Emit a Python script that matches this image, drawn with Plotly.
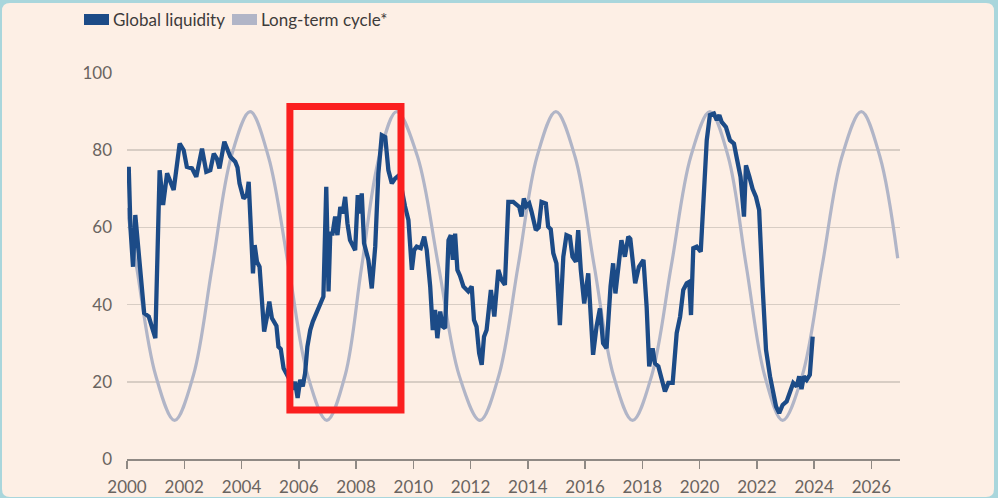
import plotly.graph_objects as go

# ---- data ----
liq_years = [2000.06, 2000.12, 2000.21, 2000.29, 2000.41, 2000.52, 2000.60, 2000.76, 2000.87, 2000.99,
             2001.14, 2001.26, 2001.40, 2001.51, 2001.63, 2001.84, 2001.98, 2002.09, 2002.27, 2002.42,
             2002.62, 2002.77, 2002.91, 2003.03, 2003.14, 2003.23, 2003.40, 2003.61, 2003.78, 2003.86,
             2003.93, 2004.07, 2004.19, 2004.25, 2004.30, 2004.40, 2004.46, 2004.54, 2004.63, 2004.71,
             2004.79, 2004.89, 2004.97, 2005.06, 2005.14, 2005.22, 2005.29, 2005.37, 2005.47, 2005.65,
             2005.80, 2005.87, 2005.96, 2006.05, 2006.14, 2006.22, 2006.30, 2006.40, 2006.49, 2006.61,
             2006.75, 2006.86, 2006.96, 2007.04, 2007.10, 2007.18, 2007.27, 2007.35, 2007.45, 2007.53,
             2007.62, 2007.70, 2007.79, 2007.97, 2008.06, 2008.12, 2008.20, 2008.28, 2008.43, 2008.55,
             2008.67, 2008.78, 2008.90, 2009.02, 2009.13, 2009.25, 2009.37, 2009.50, 2009.71, 2009.83,
             2009.95, 2010.03, 2010.12, 2010.26, 2010.38, 2010.47, 2010.59, 2010.68, 2010.76, 2010.84,
             2010.94, 2011.03, 2011.11, 2011.23, 2011.31, 2011.38, 2011.46, 2011.54, 2011.63, 2011.75,
             2011.92, 2012.04, 2012.12, 2012.21, 2012.30, 2012.39, 2012.47, 2012.56, 2012.71, 2012.83,
             2012.97, 2013.08, 2013.20, 2013.32, 2013.49, 2013.70, 2013.78, 2013.86, 2013.95, 2014.05,
             2014.13, 2014.28, 2014.38, 2014.48, 2014.63, 2014.71, 2014.80, 2014.89, 2015.00, 2015.12,
             2015.24, 2015.35, 2015.47, 2015.56, 2015.68, 2015.76, 2015.85, 2015.97, 2016.11, 2016.23,
             2016.28, 2016.40, 2016.52, 2016.63, 2016.75, 2016.89, 2016.98, 2017.06, 2017.16, 2017.27,
             2017.39, 2017.51, 2017.58, 2017.66, 2017.75, 2017.88, 2018.04, 2018.15, 2018.24, 2018.36,
             2018.44, 2018.56, 2018.68, 2018.79, 2018.91, 2019.06, 2019.20, 2019.32, 2019.43, 2019.55,
             2019.64, 2019.70, 2019.78, 2019.90, 2020.04, 2020.13, 2020.25, 2020.36, 2020.50, 2020.60,
             2020.69, 2020.77, 2020.92, 2021.06, 2021.20, 2021.29, 2021.43, 2021.55, 2021.62, 2021.74,
             2021.85, 2021.97, 2022.08, 2022.20, 2022.32, 2022.46, 2022.57, 2022.67, 2022.78, 2022.90,
             2023.04, 2023.15, 2023.27, 2023.39, 2023.48, 2023.56, 2023.64, 2023.74, 2023.85, 2023.95]
liq_values = [75.7, 60.0, 49.8, 63.2, 53.3, 42.9, 37.8, 36.9, 34.3, 31.3,
              74.8, 65.8, 74.0, 72.2, 69.7, 81.7, 80.0, 75.7, 75.3, 73.1,
              80.4, 74.4, 74.8, 79.1, 77.8, 75.3, 82.2, 78.3, 77.0, 75.5,
              71.4, 67.5, 68.4, 71.8, 65.3, 48.1, 55.4, 51.1, 49.8, 39.5,
              33.0, 36.9, 40.8, 36.5, 35.2, 34.5, 29.1, 28.5, 23.5, 21.0,
              18.0, 20.0, 15.8, 20.5, 18.8, 22.2, 29.1, 33.4, 35.6, 37.8,
              40.8, 42.1, 70.5, 43.4, 58.4, 58.4, 62.8, 58.0, 65.3, 63.6,
              67.9, 61.0, 56.7, 54.1, 68.4, 63.6, 68.8, 55.9, 51.6, 44.2,
              55.0, 74.0, 83.9, 83.4, 74.8, 71.4, 72.7, 73.5, 65.5, 61.9,
              49.0, 54.1, 55.0, 54.6, 57.6, 54.1, 44.7, 33.4, 38.6, 31.3,
              38.2, 34.3, 33.9, 56.7, 58.0, 51.6, 58.4, 49.0, 47.5, 44.7,
              43.4, 44.7, 36.0, 34.3, 27.4, 24.4, 31.7, 33.4, 43.8, 36.9,
              49.0, 46.4, 45.1, 66.6, 66.6, 65.3, 62.8, 67.5, 65.5, 66.2,
              64.1, 59.3, 60.0, 66.6, 66.2, 60.2, 59.5, 53.3, 50.7, 34.7,
              52.4, 58.0, 57.6, 52.4, 51.1, 59.3, 49.0, 40.3, 48.1, 34.3,
              27.0, 34.3, 39.0, 30.0, 28.7, 44.7, 50.7, 42.9, 49.8, 56.7,
              52.4, 57.6, 57.0, 52.4, 45.5, 49.8, 51.6, 39.5, 24.0, 28.7,
              24.8, 24.0, 20.9, 17.5, 19.7, 19.7, 32.6, 36.9, 43.8, 45.5,
              45.9, 37.3, 54.6, 55.0, 53.7, 67.1, 82.6, 89.1, 89.5, 87.8,
              89.1, 87.3, 86.0, 82.6, 81.7, 78.3, 73.1, 62.8, 76.1, 73.1,
              70.0, 67.9, 64.5, 44.7, 28.3, 21.4, 17.1, 13.6, 11.9, 14.0,
              14.9, 17.1, 19.7, 18.8, 21.4, 18.1, 21.4, 20.5, 21.8, 31.7]

cycle_years = [2000.00, 2000.33, 2001.00, 2001.66, 2002.32, 2002.98, 2003.64, 2004.30, 2004.94, 2005.64,
               2006.31, 2006.98, 2007.62, 2008.20, 2008.81, 2009.42, 2010.15, 2010.88, 2011.60, 2012.33,
               2012.99, 2013.66, 2014.32, 2014.98, 2015.65, 2016.32, 2016.99, 2017.66, 2018.33, 2019.01,
               2019.69, 2020.36, 2021.00, 2021.63, 2022.27, 2022.90, 2023.59, 2024.28, 2024.97, 2025.65,
               2026.30, 2026.92]
cycle_values = [65, 50, 21.7, 10, 21.7, 50, 78.3, 90, 78.3, 50,
                21.7, 10, 21.7, 50, 78.3, 90, 78.3, 50, 21.7, 10,
                21.7, 50, 78.3, 90, 78.3, 50, 21.7, 10, 21.7, 50,
                78.3, 90, 78.3, 50, 21.7, 10, 21.7, 50, 78.3, 90,
                78.3, 52]

tick_years = list(range(2000, 2027, 2))
tick_labels = [str(y) for y in tick_years]
y_ticks = [0, 20, 40, 60, 80, 100]

highlight_years = [2005.69, 2009.57]
highlight_values = [12.7, 91.3]

series_names = ["Global liquidity", "Long-term cycle*"]

# ---- styling ----
W, H = 998, 498
L, R, T, B = 127, 98, 73, 39
PW, PH = W - L - R, H - T - B
BLUE = "#1c4b87"
GREY = "#b1b5c7"
CREAM = "#fdefe5"
TEAL = "#a9d6dc"
FONT = "Lato"


def px(xp):
    return (xp - L) / PW


def py(yp):
    return (H - B - yp) / PH


fig = go.Figure()
fig.add_trace(go.Scatter(x=cycle_years, y=cycle_values, mode="lines", name=series_names[1],
                         line=dict(color=GREY, width=3.2, shape="spline", smoothing=1.0),
                         hoverinfo="skip"))
fig.add_trace(go.Scatter(x=liq_years, y=liq_values, mode="lines", name=series_names[0],
                         line=dict(color=BLUE, width=4.3, shape="linear"),
                         hoverinfo="skip"))

# rounded cream card over teal frame
x0, x1 = px(2), px(994)
y0, y1 = py(497), py(3)
rx, ry = 8 / PW, 8 / PH
path = (f"M {x0+rx},{y1} L {x1-rx},{y1} Q {x1},{y1} {x1},{y1-ry} "
        f"L {x1},{y0+ry} Q {x1},{y0} {x1-rx},{y0} L {x0+rx},{y0} Q {x0},{y0} {x0},{y0+ry} "
        f"L {x0},{y1-ry} Q {x0},{y1} {x0+rx},{y1} Z")
shapes = [dict(type="path", xref="paper", yref="paper", path=path,
               fillcolor=CREAM, line=dict(width=0), layer="below")]

# legend swatches
shapes.append(dict(type="rect", xref="paper", yref="paper", x0=px(84), x1=px(109), y0=py(25), y1=py(14),
                   fillcolor=BLUE, line=dict(width=0)))
shapes.append(dict(type="rect", xref="paper", yref="paper", x0=px(232), x1=px(257), y0=py(25), y1=py(14),
                   fillcolor=GREY, line=dict(width=0)))

# red highlight box
shapes.append(dict(type="rect", xref="x", yref="y",
                   x0=highlight_years[0], x1=highlight_years[1],
                   y0=highlight_values[0], y1=highlight_values[1],
                   line=dict(color="#fb1f1f", width=7), fillcolor="rgba(0,0,0,0)", layer="above"))

annotations = [
    dict(xref="paper", yref="paper", x=px(111), y=py(20), xanchor="left", yanchor="middle",
         text=series_names[0], showarrow=False, font=dict(family=FONT, size=17, color="#3d3b3a")),
    dict(xref="paper", yref="paper", x=px(259), y=py(20), xanchor="left", yanchor="middle",
         text=series_names[1], showarrow=False, font=dict(family=FONT, size=17, color="#3d3b3a")),
]

fig.update_layout(
    width=W, height=H,
    margin=dict(l=L, r=R, t=T, b=B, pad=0, autoexpand=False),
    paper_bgcolor=TEAL,
    plot_bgcolor="rgba(0,0,0,0)",
    showlegend=False,
    shapes=shapes,
    annotations=annotations,
    font=dict(family=FONT, size=16, color="#6a6460"),
    xaxis=dict(range=[2000, 2027], tickvals=tick_years, ticktext=tick_labels, automargin=False,
               showgrid=False, zeroline=False, showline=True, linecolor="#8f8984", linewidth=1.5,
               ticks="outside", ticklen=8, tickwidth=1.5, tickcolor="#8f8984",
               tickfont=dict(family=FONT, size=17, color="#6a6460"), ticklabelstandoff=4),
    yaxis=dict(range=[0, 100], tickvals=y_ticks, showgrid=True, gridcolor="#d8cdc4", gridwidth=1.5,
               zeroline=False, showline=False, ticks="", automargin=False,
               tickfont=dict(family=FONT, size=17, color="#6a6460"), ticklabelstandoff=14),
)

fig.write_html("out.html", config={"displayModeBar": False, "staticPlot": True},
               post_script="document.body.style.margin='0';document.body.style.padding='0';"
                           "document.body.style.overflow='hidden';")
